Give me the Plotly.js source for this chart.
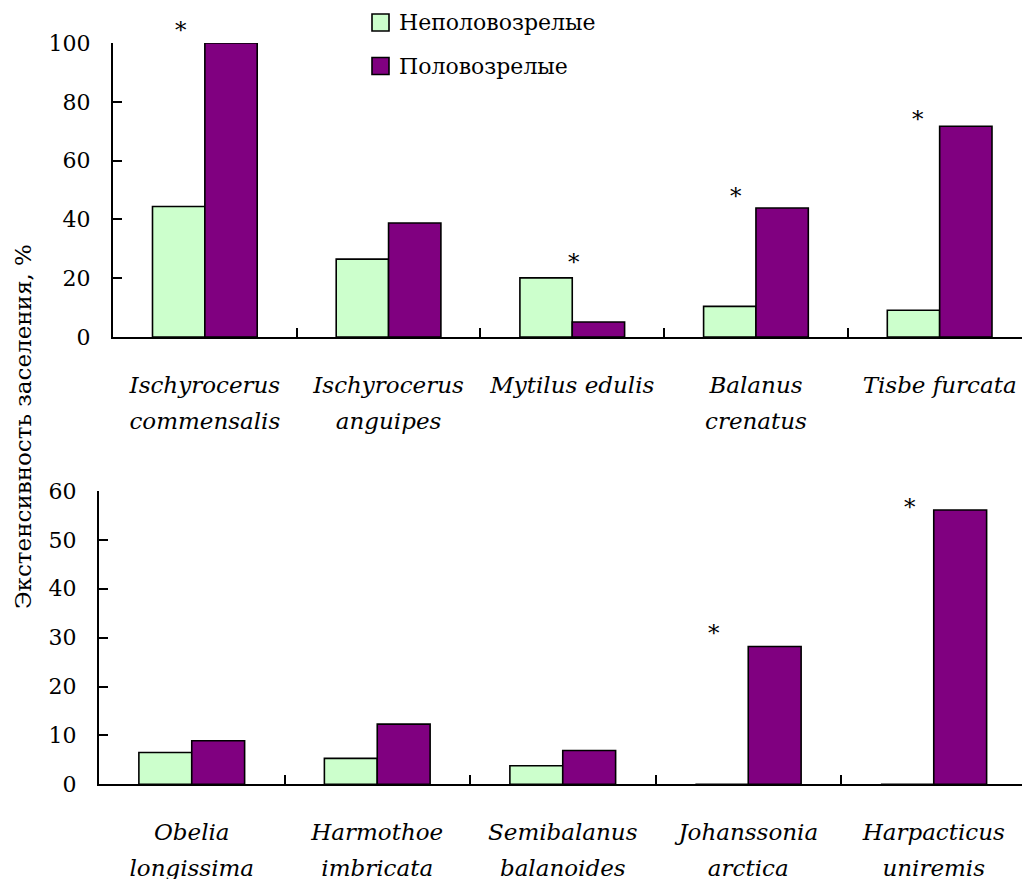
<!DOCTYPE html>
<html><head><meta charset="utf-8">
<script src="https://cdn.plot.ly/plotly-3.0.1.min.js"></script>
<style>body{margin:0;background:#fff}#chart{width:1022px;height:879px}</style>
</head><body><div id="chart"></div>
<script>
// ---- data ----
const seriesNames = ['Неполовозрелые', 'Половозрелые'];
const catsTop = ['Ischyrocerus commensalis', 'Ischyrocerus anguipes', 'Mytilus edulis', 'Balanus crenatus', 'Tisbe furcata'];
const linesTop = [['Ischyrocerus', 'commensalis'], ['Ischyrocerus', 'anguipes'], ['Mytilus edulis'], ['Balanus', 'crenatus'], ['Tisbe furcata']];
const immatureTop = [44.4, 26.5, 20.1, 10.4, 9.1];
const matureTop = [100, 38.8, 5.1, 43.9, 71.7];
const catsBottom = ['Obelia longissima', 'Harmothoe imbricata', 'Semibalanus balanoides', 'Johanssonia arctica', 'Harpacticus uniremis'];
const linesBottom = [['Obelia', 'longissima'], ['Harmothoe', 'imbricata'], ['Semibalanus', 'balanoides'], ['Johanssonia', 'arctica'], ['Harpacticus', 'uniremis']];
const immatureBottom = [6.5, 5.3, 3.8, 0, 0];
const matureBottom = [8.9, 12.3, 6.9, 28.2, 56.1];
// asterisk (significance) heights; null = none
const sigTop = [106.5, null, 27.6, 50.0, 76.2];
const sigBottom = [null, null, null, 32.1, 58.0];
const yTitle = 'Экстенсивность заселения, %';

// ---- style ----
const W = 1022, H = 879;
const FONT = 'DejaVu Serif';
const colImm = '#CCFFCC', colMat = '#800080';
const sigShiftTop = [-24, 0, 2, -20, -22];
const sigShiftBottom = [0, 0, 0, -34, -24];
const rangeTop = [0, 100], rangeBottom = [0, 60];
const LABEL_PX = 23;

function bar(x, y, name, color, xa, ya) {
  return {type: 'bar', x: x, y: y, name: name, xaxis: xa, yaxis: ya, showlegend: false,
    marker: {color: color, line: {color: '#000', width: 1.6}}};
}
const traces = [
  bar(catsTop, immatureTop, seriesNames[0], colImm, 'x', 'y'),
  bar(catsTop, matureTop, seriesNames[1], colMat, 'x', 'y'),
  bar(catsBottom, immatureBottom, seriesNames[0], colImm, 'x2', 'y2'),
  bar(catsBottom, matureBottom, seriesNames[1], colMat, 'x2', 'y2')
];

const py = p => (H - p) / H, px = p => p / W;
const fmt = lines => lines.map(l => '<span style="font-size:' + LABEL_PX + 'px">' + l + '</span>').join('<br>');

const xCommon = {type: 'category', showline: true, linecolor: '#000', linewidth: 2,
  ticks: 'inside', tickson: 'boundaries', ticklen: 9, tickwidth: 2, tickcolor: '#000',
  showgrid: false, zeroline: false, fixedrange: true, ticklabelstandoff: 20, tickmode: 'array',
  tickfont: {family: FONT, size: 28, color: '#000', style: 'italic'}};
const yCommon = {showline: true, linecolor: '#000', linewidth: 2, ticks: 'inside', ticklen: 9,
  tickwidth: 2, tickcolor: '#000', showgrid: false, zeroline: false, ticklabelstandoff: 16,
  tickfont: {family: FONT, size: 22, color: '#000'}};

const annotations = [];
function addSig(sig, cats, shifts, xa, ya, range) {
  sig.forEach((v, i) => {
    if (v === null) return;
    annotations.push({xref: xa, yref: ya + ' domain', x: cats[i], y: (v - range[0]) / (range[1] - range[0]),
      text: '*', showarrow: false, xshift: shifts[i], yshift: -6, xanchor: 'center', yanchor: 'middle',
      font: {family: FONT, size: 23, color: '#000'}});
  });
}
addSig(sigTop, catsTop, sigShiftTop, 'x', 'y', rangeTop);
addSig(sigBottom, catsBottom, sigShiftBottom, 'x2', 'y2', rangeBottom);
annotations.push({xref: 'paper', yref: 'paper', x: px(23), y: py(427), xanchor: 'center', yanchor: 'middle',
  text: yTitle, textangle: -90, showarrow: false, font: {family: FONT, size: 23, color: '#000'}});

// legend (drawn manually to match symbol size)
const shapes = [];
const legRows = [22.5, 66];
[colImm, colMat].forEach((c, i) => {
  shapes.push({type: 'rect', xref: 'paper', yref: 'paper', x0: px(372), x1: px(389), y0: py(legRows[i] - 8.5), y1: py(legRows[i] + 8.5),
    fillcolor: c, line: {color: '#000', width: 1.6}});
  annotations.push({xref: 'paper', yref: 'paper', x: px(397), y: py(legRows[i]), xanchor: 'left', yanchor: 'middle',
    text: seriesNames[i], showarrow: false, font: {family: FONT, size: 22, color: '#000'}});
});

const layout = {
  width: W, height: H, margin: {l: 0, r: 0, t: 0, b: 0}, paper_bgcolor: '#fff', plot_bgcolor: '#fff',
  barmode: 'group', bargap: 0.43, bargroupgap: 0, showlegend: false,
  font: {family: FONT, color: '#000'},
  xaxis: Object.assign({}, xCommon, {domain: [px(113), 1], range: [-0.5, -0.5 + (W - 113) / 183.7], anchor: 'y',
    tickvals: catsTop, ticktext: linesTop.map(fmt)}),
  yaxis: Object.assign({}, yCommon, {domain: [py(337), py(43)], range: rangeTop, dtick: 20, anchor: 'x'}),
  xaxis2: Object.assign({}, xCommon, {domain: [px(99), 1], range: [-0.5, -0.5 + (W - 99) / 185.5], anchor: 'y2',
    tickvals: catsBottom, ticktext: linesBottom.map(fmt)}),
  yaxis2: Object.assign({}, yCommon, {domain: [py(784.3), py(491)], range: rangeBottom, dtick: 10, anchor: 'x2'}),
  annotations: annotations, shapes: shapes
};
Plotly.newPlot('chart', traces, layout, {staticPlot: true, displayModeBar: false});
</script></body></html>
